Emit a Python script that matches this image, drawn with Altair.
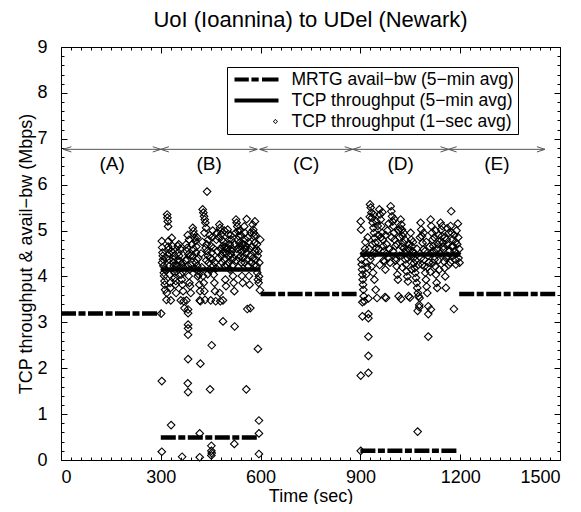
import altair as alt
import pandas as pd

chart_title = "UoI (Ioannina) to UDel (Newark)"
x_title = "Time (sec)"
y_title = "TCP throughput & avail\u2212bw (Mbps)"

# MRTG available bandwidth, 5-minute averages
mrtg_start = [0, 300, 600, 900, 1197]
mrtg_end = [300, 590, 890, 1191, 1490]
mrtg_bw = [3.19, 0.49, 3.62, 0.20, 3.62]

# TCP throughput, 5-minute averages
tcp5_start = [300, 900]
tcp5_end = [600, 1200]
tcp5_rate = [4.15, 4.48]

# TCP throughput, 1-second averages, phase (B)
b_samples = [
    (301, 3.19),
    (303, 4.77), (304, 4.63), (305, 4.52), (306, 4.45), (307, 4.37), (308, 4.23), (309, 4.08), (310, 4.01),
    (311, 3.90), (312, 3.82), (313, 3.71), (303, 1.72), (303, 0.18),
    (319, 5.35), (320, 5.28), (321, 5.20), (322, 5.09), (323, 4.77), (324, 4.59), (325, 4.37), (326, 4.23),
    (327, 4.04), (328, 3.86), (329, 3.75), (318, 3.64), (317, 3.49), (330, 3.48), (331, 0.76),
    (333, 4.84), (335, 4.66), (336, 4.52), (337, 4.30), (338, 4.37), (339, 4.23), (341, 4.08), (342, 3.97),
    (343, 4.15), (344, 3.82), (345, 3.90), (346, 3.64),
    (351, 4.66), (353, 4.52), (354, 4.70), (355, 4.45), (357, 4.34), (359, 4.19), (361, 4.04), (363, 3.93),
    (365, 3.82), (366, 4.10), (367, 3.68), (369, 3.46), (371, 3.31), (360, 3.48), (364, 0.07),
    (376, 4.70), (377, 3.48), (378, 4.55), (380, 4.37), (381, 4.90), (382, 4.23), (384, 4.01), (385, 4.80),
    (386, 3.86), (388, 3.79), (389, 4.45), (390, 3.64),
    (382, 3.28), (382, 3.20), (382, 2.95), (382, 2.87), (382, 2.73), (382, 2.20), (381, 1.67), (382, 1.48),
    (396, 5.06), (398, 4.99), (399, 4.60), (400, 4.92), (402, 4.84), (404, 4.77), (405, 4.30), (406, 4.52),
    (408, 4.37), (410, 4.23), (411, 4.00), (412, 4.12), (414, 4.04), (416, 3.82), (418, 3.68), (419, 3.46),
    (417, 3.48), (419, 2.10), (417, 0.58), (417, 0.06),
    (439, 5.85), (426, 5.46), (428, 5.39), (430, 5.31), (432, 5.24), (434, 5.17), (436, 5.06), (438, 4.70),
    (440, 4.55), (441, 4.05), (442, 4.45), (444, 4.30), (446, 4.15), (447, 4.90), (427, 4.01), (429, 3.86),
    (431, 3.68), (433, 3.49), (453, 2.50), (448, 1.54),
    (451, 4.66), (453, 4.52), (455, 4.37), (456, 5.00), (457, 4.23), (459, 4.04), (461, 3.86), (463, 3.68),
    (465, 3.46), (467, 4.80), (469, 4.95), (450, 3.48),
    (452, 0.31), (452, 0.20), (452, 0.10), (453, 0.15),
    (476, 5.13), (477, 3.64), (478, 5.06), (479, 3.46), (480, 4.99), (482, 4.92), (483, 4.45), (484, 4.80),
    (486, 4.66), (488, 4.52), (489, 4.75), (490, 4.37), (492, 4.23), (494, 3.93), (495, 4.60), (496, 3.79),
    (487, 3.48), (487, 3.02),
    (501, 5.02), (503, 4.92), (504, 4.30), (505, 4.80), (507, 4.70), (509, 4.59), (510, 4.90), (511, 4.48),
    (513, 4.37), (515, 4.23), (516, 4.60), (517, 4.01), (519, 3.86), (521, 3.68), (522, 2.91), (521, 0.35),
    (526, 5.24), (528, 5.17), (529, 4.60), (530, 5.09), (532, 4.99), (534, 4.88), (535, 4.40), (536, 4.73),
    (538, 4.59), (540, 4.45), (541, 4.90), (542, 4.30), (544, 4.01), (545, 4.70), (546, 3.86),
    (551, 5.09), (553, 4.95), (555, 4.80), (557, 4.66), (558, 5.25), (559, 4.52), (561, 4.37), (562, 4.85),
    (563, 4.23), (565, 4.01), (566, 4.60), (567, 3.82), (569, 3.31), (560, 3.29), (557, 1.54),
    (576, 5.13), (578, 5.02), (579, 4.95), (580, 4.88), (582, 4.73), (583, 5.20), (584, 4.55), (586, 4.37),
    (587, 4.60), (588, 4.23), (590, 4.08), (591, 4.45), (592, 3.93), (594, 3.86), (595, 4.00), (598, 3.70),
    (592, 2.42), (595, 0.86), (595, 0.58), (595, 0.13),
    (304, 4.30), (312, 4.15), (316, 4.40), (322, 4.65), (326, 4.50), (332, 4.55), (340, 4.45), (348, 4.25),
    (352, 4.35), (358, 4.60), (362, 4.28), (368, 4.20), (374, 4.35), (379, 4.62), (383, 4.48), (387, 4.15),
    (392, 4.25), (394, 4.70), (397, 4.45), (401, 4.18), (407, 4.65), (409, 4.85), (413, 4.40), (421, 4.50),
    (423, 4.20), (425, 4.75), (431, 4.95), (435, 4.62), (437, 4.35), (443, 4.80), (449, 4.40), (454, 4.85),
    (458, 4.62), (462, 4.30), (466, 4.18), (470, 4.55), (473, 4.40), (475, 4.85), (481, 4.60), (485, 4.30),
    (491, 5.00), (493, 4.65), (497, 4.50), (499, 4.25), (502, 4.62), (506, 4.45), (508, 4.15), (512, 4.80),
    (514, 4.55), (518, 4.40), (523, 4.70), (525, 4.95), (527, 4.35), (531, 4.80), (533, 4.20), (537, 5.00),
    (539, 4.65), (543, 4.55), (547, 4.40), (549, 4.70), (552, 4.30), (554, 4.60), (564, 4.75), (568, 4.45),
    (570, 4.95), (572, 4.30), (574, 4.65), (577, 4.40), (581, 4.25), (585, 4.90), (589, 4.70), (593, 4.55),
    (596, 4.30), (599, 4.80),
]

# TCP throughput, 1-second averages, phase (D)
d_samples = [
    (901, 0.20),
    (901, 5.20), (902, 5.02), (903, 4.37), (904, 4.26), (905, 4.15), (906, 4.04), (907, 3.93), (908, 3.82),
    (909, 3.71), (910, 3.57), (912, 3.46), (914, 4.60), (916, 4.30), (918, 4.05),
    (906, 3.44), (924, 3.52), (906, 3.13), (924, 3.18), (924, 3.09), (924, 2.69), (924, 2.27), (901, 1.84),
    (924, 1.90),
    (929, 5.57), (931, 5.50), (933, 5.39), (935, 5.28), (937, 5.17), (939, 5.06), (941, 4.95), (943, 4.84),
    (945, 4.73), (947, 4.62), (930, 4.37), (934, 4.22), (938, 4.08), (942, 3.93), (946, 3.71), (950, 3.53),
    (952, 5.10), (954, 4.90),
    (957, 5.46), (959, 5.35), (961, 5.24), (963, 5.10), (965, 4.95), (967, 4.80), (969, 4.66), (971, 4.55),
    (973, 4.33), (975, 4.15), (977, 3.53), (974, 3.55), (979, 4.70), (981, 5.00), (983, 4.40),
    (991, 5.53), (993, 5.42), (995, 5.31), (997, 5.20), (999, 5.10), (1001, 4.95), (1003, 4.80), (1005, 4.66),
    (1007, 4.40), (1009, 4.22), (1011, 4.04), (1013, 3.93), (1015, 3.57), (1017, 4.85), (1019, 5.05),
    (1022, 3.51), (1021, 5.24), (1023, 5.13), (1025, 5.02), (1027, 4.88), (1029, 4.73), (1031, 4.62),
    (1033, 4.51), (1035, 4.37), (1037, 4.26), (1039, 4.11), (1041, 4.00), (1043, 3.89), (1045, 3.57),
    (1047, 4.70),
    (1049, 3.54), (1051, 4.95), (1053, 4.80), (1055, 4.66), (1057, 4.55), (1059, 4.40), (1061, 4.29),
    (1063, 4.18), (1065, 4.08), (1067, 3.97), (1069, 3.86), (1071, 3.75), (1073, 3.64), (1075, 3.57),
    (1078, 3.53), (1072, 0.62), (1077, 3.38), (1077, 3.33), (1072, 3.25),
    (1081, 5.17), (1083, 5.02), (1085, 4.88), (1087, 4.73), (1089, 4.59), (1091, 4.37), (1093, 4.22),
    (1095, 4.08), (1097, 3.93), (1099, 3.78), (1101, 3.64), (1103, 4.45), (1106, 4.30),
    (1104, 3.35), (1112, 3.28), (1104, 3.18), (1104, 2.69),
    (1111, 5.24), (1113, 5.10), (1115, 4.95), (1117, 4.80), (1119, 4.66), (1121, 4.55), (1123, 4.37),
    (1125, 4.22), (1127, 4.04), (1129, 3.86), (1131, 3.75), (1133, 4.70), (1135, 4.90), (1137, 4.15),
    (1173, 5.42), (1141, 5.17), (1143, 5.02), (1145, 4.88), (1147, 4.73), (1149, 4.59), (1151, 4.33),
    (1153, 4.18), (1155, 4.00), (1157, 3.75), (1159, 4.80), (1161, 5.05), (1163, 4.45), (1165, 4.25),
    (1181, 3.29), (1171, 5.10), (1175, 4.95), (1177, 4.80), (1179, 4.66), (1183, 4.55), (1185, 4.37),
    (1187, 4.26), (1189, 5.00), (1191, 4.70), (1193, 5.15), (1195, 4.40), (1197, 4.60),
    (911, 4.50), (915, 4.75), (920, 4.20), (922, 4.85), (926, 4.60), (928, 5.30), (932, 4.45), (936, 4.70),
    (940, 5.35), (944, 4.50), (948, 5.20), (956, 4.60), (958, 4.25), (962, 4.85), (966, 5.40), (970, 4.35),
    (976, 4.90), (978, 4.50), (985, 5.15), (987, 4.60), (989, 4.30), (994, 4.85), (998, 4.55), (1002, 5.25),
    (1006, 4.35), (1010, 4.70), (1014, 5.00), (1018, 4.45), (1024, 4.65), (1026, 4.20), (1030, 4.95),
    (1034, 4.80), (1038, 4.55), (1042, 4.40), (1046, 4.60), (1050, 4.45), (1054, 4.15), (1058, 4.75),
    (1062, 4.50), (1066, 4.35), (1070, 4.60), (1074, 4.25), (1079, 4.85), (1082, 4.40), (1086, 4.25),
    (1090, 4.95), (1094, 4.55), (1098, 4.75), (1102, 4.20), (1108, 4.65), (1110, 4.10), (1114, 4.50),
    (1118, 4.30), (1122, 4.85), (1126, 5.00), (1130, 4.60), (1134, 4.35), (1138, 4.75), (1142, 4.50),
    (1146, 5.10), (1150, 4.65), (1154, 4.85), (1158, 4.40), (1162, 4.70), (1166, 4.95), (1168, 4.55),
    (1170, 4.30), (1174, 4.65), (1178, 4.45), (1182, 4.90), (1186, 4.75), (1190, 4.50), (1194, 4.85),
    (1198, 4.30),
]

# Phase arrows and labels
phase_labels = ["(A)", "(B)", "(C)", "(D)", "(E)"]
phase_start = [7, 300, 597, 877, 1165]
phase_end = [300, 590, 877, 1165, 1455]

series_names = [
    "MRTG avail\u2212bw (5\u2212min avg)",
    "TCP throughput (5\u2212min avg)",
    "TCP throughput (1\u2212sec avg)",
]

# ---------------------------------------------------------------- layout
W, H = 499, 413
FONT = "Liberation Sans"
X = alt.Scale(domain=[0, 1500], nice=False, zero=False)
Y = alt.Scale(domain=[0, 9], nice=False, zero=False)
ARROW_Y = 6.77
LABEL_Y = 6.44

x_ticks = list(range(0, 1501, 30))
y_ticks = [round(i * 0.2, 1) for i in range(46)]
x_tick_size = {"condition": {"test": "datum.value % 300 === 0", "value": 6}, "value": 3}
y_tick_size = {"condition": {"test": "abs(datum.value - round(datum.value)) < 0.001", "value": 6}, "value": 3}


def tick_axis(orient, offset, values, size):
    return alt.Axis(orient=orient, offset=offset, values=values, labels=False, domain=False,
                    grid=False, ticks=True, tickSize=size, tickColor="black", tickWidth=1,
                    title=None)


samples = pd.DataFrame(b_samples + d_samples, columns=["t", "rate"])
mrtg_df = pd.DataFrame({"start": mrtg_start, "end": mrtg_end, "bw": mrtg_bw})
tcp5_df = pd.DataFrame({"start": tcp5_start, "end": tcp5_end, "rate": tcp5_rate})
phase_df = pd.DataFrame({"label": phase_labels, "start": phase_start, "end": phase_end})
legend_df = pd.DataFrame({"series": series_names})

scatter = alt.Chart(samples).mark_point(
    shape="diamond", filled=False, color="black", strokeWidth=1.1, size=58, opacity=1
).encode(
    x=alt.X("t:Q", scale=X, axis=alt.Axis(
        orient="bottom", values=[0, 300, 600, 900, 1200, 1500], format="d", labelFontSize=18,
        labelPadding=8, ticks=False, domain=False, grid=False, title=x_title,
        titleFontSize=18, titlePadding=1, titleFontWeight="normal")),
    y=alt.Y("rate:Q", scale=Y, axis=alt.Axis(
        orient="left", values=list(range(10)), format="d", labelFontSize=18, labelPadding=14,
        ticks=False, domain=False, grid=False, title=y_title, titleFontSize=18,
        titlePadding=1, titleFontWeight="normal")),
)

mrtg = alt.Chart(mrtg_df).mark_rule(
    color="black", strokeWidth=4.5, strokeDash=[15, 2.5, 7, 2.5], strokeCap="butt"
).encode(
    x=alt.X("start:Q", scale=X, axis=tick_axis("top", -H, x_ticks, x_tick_size)),
    x2="end:Q",
    y=alt.Y("bw:Q", scale=Y, axis=tick_axis("right", -W, y_ticks, y_tick_size)),
)

tcp5 = alt.Chart(tcp5_df).mark_rule(color="black", strokeWidth=4.5, strokeCap="butt").encode(
    x=alt.X("start:Q", scale=X, axis=tick_axis("bottom", -H, x_ticks, x_tick_size)),
    x2="end:Q",
    y=alt.Y("rate:Q", scale=Y, axis=tick_axis("left", -W, y_ticks, y_tick_size)),
)

arrow_color = "#555555"
arrows = alt.Chart(phase_df).mark_rule(color=arrow_color, strokeWidth=1).encode(
    x=alt.X("start:Q", scale=X, axis=None),
    x2="end:Q",
    y=alt.YDatum(ARROW_Y, scale=Y, axis=None),
)
left_heads = alt.Chart(phase_df).mark_point(
    shape="M 2.3 -0.75 L 0 0 L 2.3 0.75", filled=False, color=arrow_color,
    strokeWidth=1, size=49, opacity=1
).encode(
    x=alt.X("start:Q", scale=X, axis=None),
    y=alt.YDatum(ARROW_Y, scale=Y, axis=None),
)
right_heads = alt.Chart(phase_df).mark_point(
    shape="M -2.3 -0.75 L 0 0 L -2.3 0.75", filled=False, color=arrow_color,
    strokeWidth=1, size=49, opacity=1
).encode(
    x=alt.X("end:Q", scale=X, axis=None),
    y=alt.YDatum(ARROW_Y, scale=Y, axis=None),
)
labels = alt.Chart(phase_df).transform_calculate(
    mid="(datum.start + datum.end) / 2"
).mark_text(font=FONT, fontSize=19, color="black").encode(
    x=alt.X("mid:Q", scale=X, axis=None),
    y=alt.YDatum(LABEL_Y, scale=Y, axis=None),
    text="label:N",
)

dashdot_path = ("M -1 -0.09 L -0.35 -0.09 L -0.35 0.09 L -1 0.09 Z "
                "M -0.23 -0.09 L 0.1 -0.09 L 0.1 0.09 L -0.23 0.09 Z "
                "M 0.25 -0.09 L 1 -0.09 L 1 0.09 L 0.25 0.09 Z")
solid_path = "M -1 -0.09 L 1 -0.09 L 1 0.09 L -1 0.09 Z"
ring_path = ("M 0.86 -0.115 L 0.975 0 L 0.86 0.115 L 0.745 0 Z "
             "M 0.86 -0.07 L 0.79 0 L 0.86 0.07 L 0.93 0 Z")

legend_layer = alt.Chart(legend_df).mark_point(filled=True, opacity=0, color="black").encode(
    shape=alt.Shape("series:N", scale=alt.Scale(domain=series_names,
                                                range=[dashdot_path, solid_path, ring_path]),
                    legend=alt.Legend(
                        title=None, orient="none", legendX=166, legendY=20, padding=3.5,
                        strokeColor="black", fillColor="white", cornerRadius=0,
                        symbolSize=1936, symbolStrokeWidth=0, symbolOpacity=1,
                        symbolFillColor="black", symbolOffset=4, labelOffset=13,
                        clipHeight=18, rowPadding=3, labelFontSize=17.5, labelFont=FONT,
                        labelColor="black", labelLimit=400)),
)

chart = alt.layer(
    scatter, mrtg, tcp5, arrows, left_heads, right_heads, labels, legend_layer
).resolve_axis(
    x="independent", y="independent"
).properties(
    width=W, height=H,
    title=alt.TitleParams(chart_title, font=FONT, fontSize=22, fontWeight="normal",
                          color="black", offset=6, anchor="middle"),
    autosize=alt.AutoSizeParams(type="none"),
    padding={"left": 53, "top": 39, "right": 12, "bottom": 44},
    background="white",
).configure_view(
    stroke="black", strokeWidth=1
).configure_axis(
    labelFont=FONT, titleFont=FONT, labelColor="black", titleColor="black"
)

chart.save("out.html", embed_options={"renderer": "svg", "actions": False})
